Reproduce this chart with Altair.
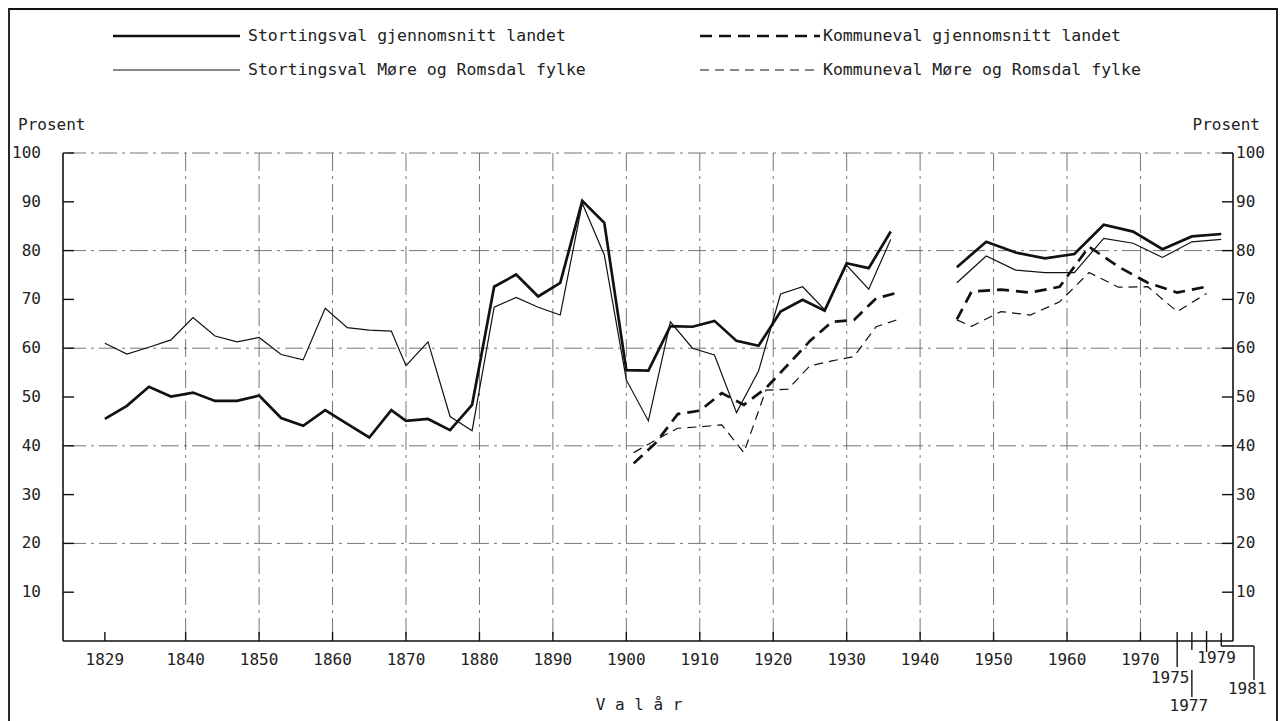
import altair as alt
import pandas as pd

# ---------------- data ----------------
st_years_a = [1829, 1832, 1835, 1838, 1841, 1844, 1847, 1850, 1853, 1856, 1859, 1862,
              1865, 1868, 1870, 1873, 1876, 1879, 1882, 1885, 1888, 1891, 1894, 1897,
              1900, 1903, 1906, 1909, 1912, 1915, 1918, 1921, 1924, 1927, 1930, 1933, 1936]
st_years_b = [1945, 1949, 1953, 1957, 1961, 1965, 1969, 1973, 1977, 1981]

st_land_a = [45.5, 48.2, 52.1, 50.1, 50.9, 49.2, 49.2, 50.3, 45.7, 44.1, 47.3, 44.5,
             41.7, 47.3, 45.1, 45.5, 43.2, 48.4, 72.6, 75.1, 70.6, 73.4, 90.2, 85.7,
             55.5, 55.4, 64.5, 64.4, 65.6, 61.5, 60.5, 67.5, 69.9, 67.7, 77.4, 76.4, 83.9]
st_land_b = [76.6, 81.8, 79.6, 78.4, 79.3, 85.3, 83.9, 80.3, 82.9, 83.4]

st_mr_a = [61.0, 58.8, 60.2, 61.7, 66.3, 62.5, 61.3, 62.2, 58.7, 57.6, 68.2, 64.2,
           63.7, 63.5, 56.4, 61.3, 46.0, 43.1, 68.4, 70.4, 68.4, 66.8, 89.7, 79.1,
           53.5, 45.1, 65.4, 60.0, 58.6, 46.8, 55.3, 71.1, 72.6, 67.9, 77.0, 72.1, 82.3]
st_mr_b = [73.4, 78.9, 76.0, 75.5, 75.5, 82.5, 81.5, 78.6, 81.8, 82.3]

ko_years_a = [1901, 1904, 1907, 1910, 1913, 1916, 1919, 1922, 1925, 1928, 1931, 1934, 1937]
ko_years_b = [1945, 1947, 1951, 1955, 1959, 1963, 1967, 1971, 1975, 1979]

ko_land_a = [36.4, 40.6, 46.5, 47.2, 50.8, 48.4, 51.8, 56.6, 61.5, 65.4, 65.8, 70.2, 71.4]
ko_land_b = [65.9, 71.6, 72.0, 71.4, 72.6, 80.8, 76.7, 73.4, 71.4, 72.6]

ko_mr_a = [38.6, 41.2, 43.6, 43.9, 44.3, 38.6, 51.4, 51.6, 56.4, 57.4, 58.3, 64.4, 65.9]
ko_mr_b = [65.8, 64.5, 67.5, 66.8, 69.5, 75.5, 72.5, 72.6, 67.5, 71.2]

legend_labels = ["Stortingsval gjennomsnitt landet",
                 "Kommuneval gjennomsnitt landet",
                 "Stortingsval Møre og Romsdal fylke",
                 "Kommuneval Møre og Romsdal fylke"]

y_ticks = [10, 20, 30, 40, 50, 60, 70, 80, 90, 100]
y_grid = [20, 40, 60, 80, 100]
x_grid = [1840, 1850, 1860, 1870, 1880, 1890, 1900, 1910, 1920, 1930, 1940, 1950, 1960, 1970]
x_labels = [1829] + x_grid
axis_title_y = "Prosent"
axis_title_x = "V a l å r"

# ---------------- helpers ----------------
W, H = 1170, 488
MONO = "DejaVu Sans Mono"
INK = "#111111"
TXT = "#222222"
GRID = "#666666"

x_scale = alt.Scale(domain=[1823.3, 1982.6], nice=False, zero=False)
y_scale = alt.Scale(domain=[0, 100], nice=False, zero=True)


def xe(f):
    return alt.X(f"{f}:Q", scale=x_scale, axis=None)


def ye(f):
    return alt.Y(f"{f}:Q", scale=y_scale, axis=None)


def series_df(ya, va, yb, vb):
    rows = [{"year": y, "value": v, "seg": "a"} for y, v in zip(ya, va)]
    rows += [{"year": y, "value": v, "seg": "b"} for y, v in zip(yb, vb)]
    return pd.DataFrame(rows)


one = alt.Data(values=[{"k": 0}])
layers = []

# grid lines
layers.append(alt.Chart(pd.DataFrame({"v": y_grid})).mark_rule(
    color=GRID, strokeWidth=0.9, strokeDash=[18, 5, 3, 5]).encode(y=ye("v")))
layers.append(alt.Chart(pd.DataFrame({"yr": x_grid})).mark_rule(
    color=GRID, strokeWidth=0.9, strokeDash=[18, 5, 3, 5]).encode(x=xe("yr")))

# axis frame lines
layers.append(alt.Chart(one).mark_rule(color=INK, strokeWidth=1.6).encode(
    x=alt.value(0), y=alt.value(0), y2=alt.value(H)))
layers.append(alt.Chart(one).mark_rule(color=INK, strokeWidth=1.6).encode(
    x=alt.value(W), y=alt.value(0), y2=alt.value(H)))
layers.append(alt.Chart(one).mark_rule(color=INK, strokeWidth=1.6).encode(
    y=alt.value(H), x=alt.value(0), x2=alt.value(W)))

# y ticks (inside) left and right
ydf = pd.DataFrame({"v": y_ticks, "lab": [str(v) for v in y_ticks]})
layers.append(alt.Chart(ydf).mark_rule(color=INK, strokeWidth=1.4).encode(
    y=ye("v"), x=alt.value(0), x2=alt.value(11)))
layers.append(alt.Chart(ydf).mark_rule(color=INK, strokeWidth=1.4).encode(
    y=ye("v"), x=alt.value(W - 11), x2=alt.value(W)))
layers.append(alt.Chart(ydf).mark_text(align="right", baseline="middle", font=MONO,
                                       fontSize=16, color=TXT).encode(
    y=ye("v"), x=alt.value(-22), text="lab:N"))
layers.append(alt.Chart(ydf).mark_text(align="left", baseline="middle", font=MONO,
                                       fontSize=16, color=TXT).encode(
    y=ye("v"), x=alt.value(W + 3), text="lab:N"))

# x ticks and labels
xdf = pd.DataFrame({"yr": x_labels, "lab": [str(v) for v in x_labels]})
layers.append(alt.Chart(xdf).mark_rule(color=INK, strokeWidth=1.4).encode(
    x=xe("yr"), y=alt.value(H - 9), y2=alt.value(H)))
layers.append(alt.Chart(xdf).mark_text(align="center", baseline="middle", font=MONO,
                                       fontSize=16, color=TXT).encode(
    x=xe("yr"), y=alt.value(H + 19), text="lab:N"))


def special_tick(year, y1, y2):
    return alt.Chart(pd.DataFrame({"yr": [year]})).mark_rule(color=INK, strokeWidth=1.4).encode(
        x=xe("yr"), y=alt.value(y1), y2=alt.value(y2))


def special_label(year, dx, y):
    return alt.Chart(pd.DataFrame({"yr": [year], "lab": [str(year)]})).mark_text(
        align="center", baseline="middle", font=MONO, fontSize=16, color=TXT, dx=dx).encode(
        x=xe("yr"), y=alt.value(y), text="lab:N")


layers.append(special_tick(1975, H - 9, H + 26))
layers.append(special_tick(1977, H - 9, H + 9))
layers.append(special_tick(1977, H + 29, H + 56))
layers.append(special_tick(1979, H - 10, H + 11))
layers.append(special_tick(1981, H - 8, H + 5))
layers.append(alt.Chart(pd.DataFrame({"yr": [1981]})).mark_rule(color=INK, strokeWidth=1.4).encode(
    x=xe("yr"), x2=alt.value(W + 21), y=alt.value(H + 5)))
layers.append(alt.Chart(one).mark_rule(color=INK, strokeWidth=1.4).encode(
    x=alt.value(W + 21), y=alt.value(H + 5), y2=alt.value(H + 39)))
layers.append(special_label(1975, -7, H + 37))
layers.append(special_label(1977, -3, H + 65))
layers.append(special_label(1979, 10, H + 17))
layers.append(special_label(1981, 26, H + 48))

# axis titles
layers.append(alt.Chart(one).mark_text(align="left", baseline="middle", font=MONO,
                                       fontSize=16, color=TXT).encode(
    x=alt.value(-45), y=alt.value(-28), text=alt.value(axis_title_y)))
layers.append(alt.Chart(one).mark_text(align="right", baseline="middle", font=MONO,
                                       fontSize=16, color=TXT).encode(
    x=alt.value(W + 27), y=alt.value(-28), text=alt.value(axis_title_y)))
layers.append(alt.Chart(one).mark_text(align="center", baseline="middle", font=MONO,
                                       fontSize=16, color=TXT).encode(
    x=alt.value(576), y=alt.value(H + 64), text=alt.value(axis_title_x)))

# data lines
styles = [
    (series_df(st_years_a, st_mr_a, st_years_b, st_mr_b), 1.2, None),
    (series_df(ko_years_a, ko_mr_a, ko_years_b, ko_mr_b), 1.2, [9, 6]),
    (series_df(ko_years_a, ko_land_a, ko_years_b, ko_land_b), 2.7, [12, 7]),
    (series_df(st_years_a, st_land_a, st_years_b, st_land_b), 2.7, None),
]
for df, sw, dash in styles:
    kw = dict(color=INK, strokeWidth=sw, strokeJoin="miter")
    if dash:
        kw["strokeDash"] = dash
    layers.append(alt.Chart(df).mark_line(**kw).encode(
        x=xe("year"), y=ye("value"), detail="seg:N", order="year:Q"))

# legend
leg = [
    (50, 177, -117, 2.7, None, 185, legend_labels[0]),
    (637, 757, -117, 2.7, [12, 7], 760, legend_labels[1]),
    (50, 177, -83, 1.2, None, 185, legend_labels[2]),
    (637, 757, -83, 1.2, [9, 6], 760, legend_labels[3]),
]
for x1, x2, yy, sw, dash, tx, lab in leg:
    kw = dict(color=INK, strokeWidth=sw)
    if dash:
        kw["strokeDash"] = dash
    layers.append(alt.Chart(one).mark_rule(**kw).encode(
        x=alt.value(x1), x2=alt.value(x2), y=alt.value(yy)))
    layers.append(alt.Chart(one).mark_text(align="left", baseline="middle", font=MONO,
                                           fontSize=16.5, color=TXT).encode(
        x=alt.value(tx), y=alt.value(yy), text=alt.value(lab)))

# outer page frame
layers.append(alt.Chart(one).mark_rect(fill=None, fillOpacity=0, stroke=INK, strokeWidth=1.8).encode(
    x=alt.value(-54), x2=alt.value(1214), y=alt.value(-144), y2=alt.value(580)))

chart = alt.layer(*layers).properties(
    width=W, height=H,
    padding={"left": 55, "top": 145, "right": 47, "bottom": 80},
    autosize=alt.AutoSizeParams(type="none"),
    background="white",
).configure_view(stroke=None)

chart.save("out.html", embed_options={"renderer": "svg", "actions": False})
